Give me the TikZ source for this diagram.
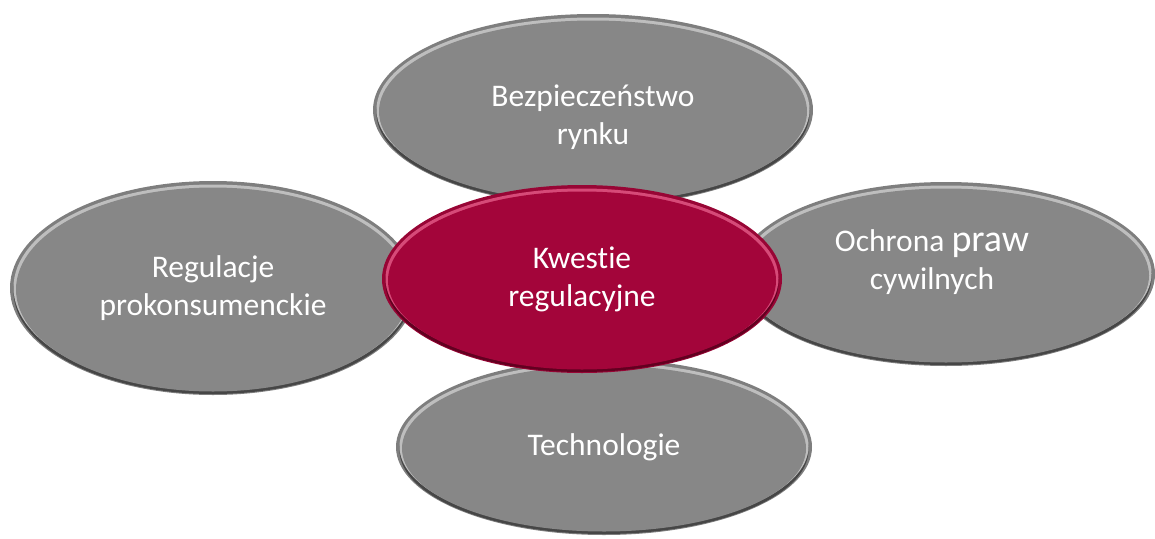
\documentclass[tikz,border=0pt]{standalone}
\usepackage{fontspec}
\setmainfont{Carlito}[Ligatures=NoCommon]
\usetikzlibrary{shapes.geometric,calc}

\definecolor{bubblegrey}{HTML}{878787}
\definecolor{bubbleedge}{HTML}{7E7E7E}
\definecolor{bubblerim}{HTML}{464646}
\definecolor{bubblelight}{HTML}{BEBEBE}
\definecolor{hubred}{HTML}{A3053A}
\definecolor{hubedge}{HTML}{980535}
\definecolor{hubrim}{HTML}{620020}
\definecolor{hublight}{HTML}{D64A78}

\tikzset{
  bevel/.style n args={4}{ellipse, fill=#4, inner sep=0pt, text=white, align=center,
    font=\fontsize{31.5}{38}\selectfont,
    path picture={
      \fill[#3] let \p1=($(path picture bounding box.north east)-(path picture bounding box.center)$) in
        ([yshift=-3pt]path picture bounding box.center) ellipse [x radius={\x1-3.5pt}, y radius={\y1-4pt}];
      \fill[#2] let \p1=($(path picture bounding box.north east)-(path picture bounding box.center)$) in
        ([yshift=0.5pt]path picture bounding box.center) ellipse [x radius={\x1-3.5pt}, y radius={\y1-4pt}];
      \fill[#1] let \p1=($(path picture bounding box.north east)-(path picture bounding box.center)$) in
        ([yshift=-1.5pt]path picture bounding box.center) ellipse [x radius={\x1-6pt}, y radius={\y1-5pt}];
    }},
  bubble/.style={bevel={bubblegrey}{bubblelight}{bubblerim}{bubbleedge}},
  hub/.style={bevel={hubred}{hublight}{hubrim}{hubedge}}
}

\begin{document}
\begin{tikzpicture}[x=1pt,y=-1pt]
    \useasboundingbox (0,0) rectangle (1155,538);

    % outer topics
    \node[bubble, minimum width=440pt, minimum height=192pt] (bezp) at (593,110) {\rule{0pt}{36pt}Bezpieczeństwo\\rynku};
    \node[bubble, minimum width=406pt, minimum height=214pt] (regul) at (213,288) {Regulacje\\prokonsumenckie};
    \node[bubble, minimum width=418pt, minimum height=184pt] (ochrona) at (946,274)
        {Ochrona {\fontsize{38}{44}\selectfont praw}\hspace*{28pt}\\cywilnych\hspace*{28pt}\rule[-28pt]{0pt}{0pt}};
    \node[bubble, minimum width=416pt, minimum height=176pt] (techn) at (604,447) {Technologie};

    % centre
    \node[hub, minimum width=400pt, minimum height=188pt] (kwestie) at (582,279) {Kwestie\\regulacyjne};
\end{tikzpicture}
\end{document}
